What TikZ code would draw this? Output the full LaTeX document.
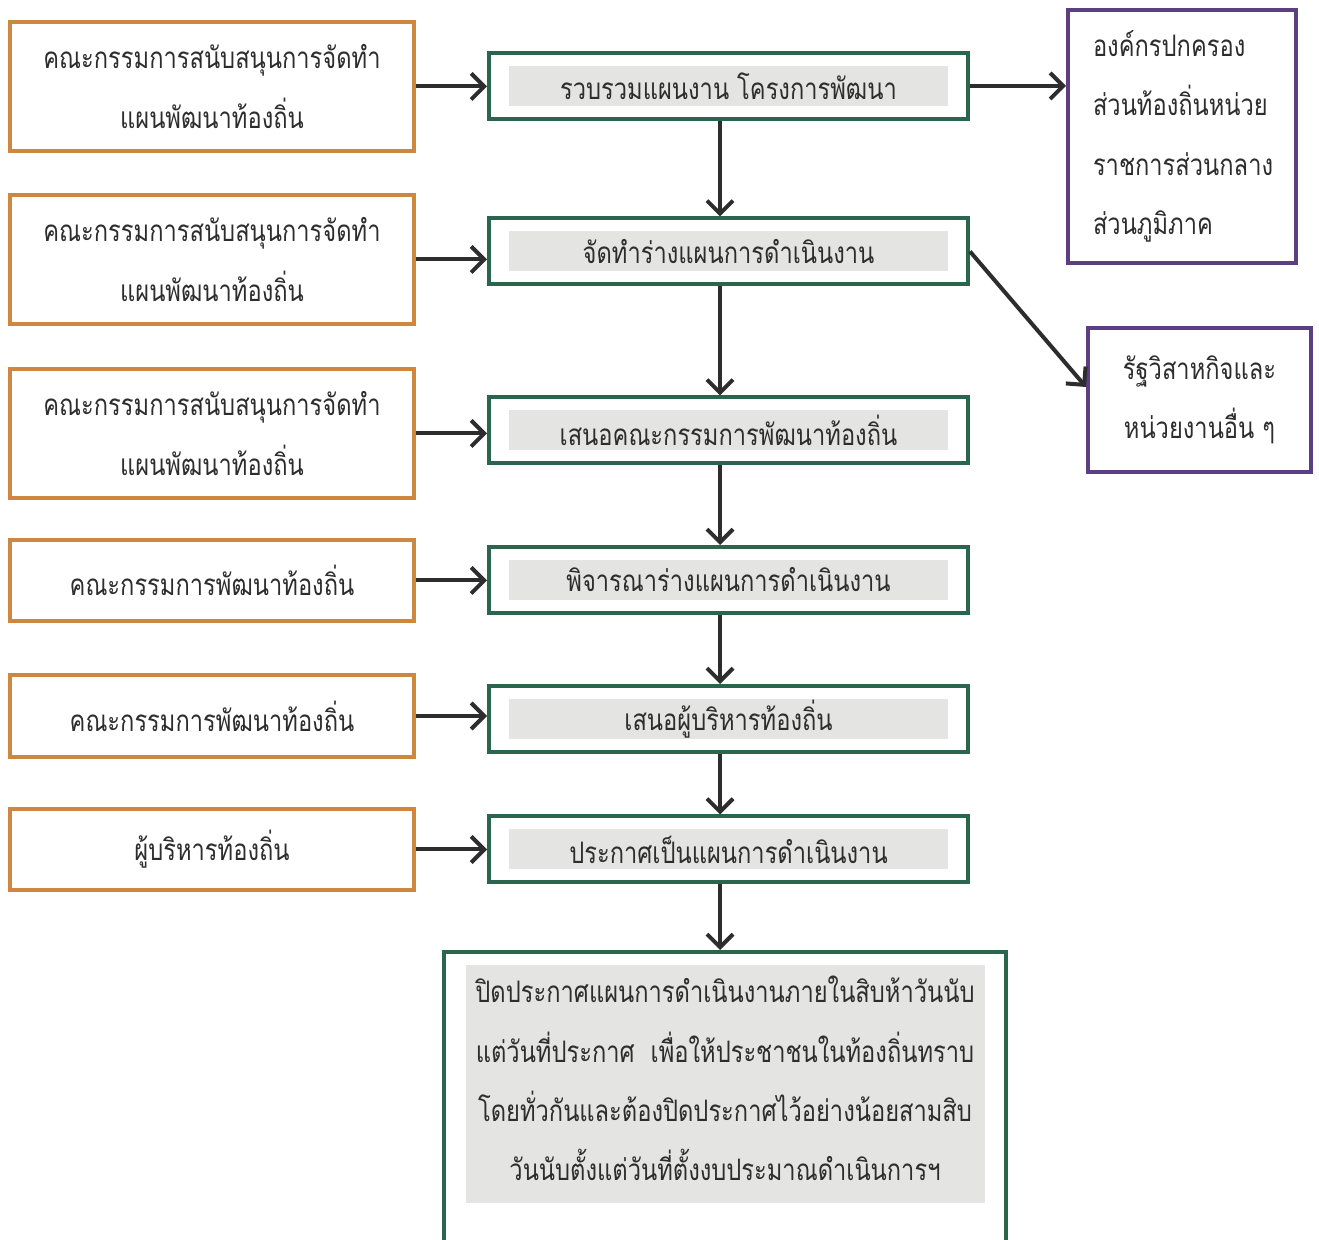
\documentclass[tikz,border=0pt]{standalone}
\usepackage{fontspec}
\newfontfamily\thaifont[Script=Thai, FakeStretch=0.8]{Loma}
\usetikzlibrary{arrows.meta,calc}
\definecolor{orangec}{RGB}{205,135,62}
\definecolor{greenc}{RGB}{42,102,78}
\definecolor{purplec}{RGB}{92,62,130}
\definecolor{txtc}{RGB}{45,45,45}
\definecolor{bandc}{RGB}{228,228,226}
\tikzset{
  txt/.style={font=\thaifont\fontsize{14.8}{29.7}\selectfont, text=txtc},
  obox/.style={txt, draw=orangec, line width=2pt, fill=white, minimum width=202pt, align=center, inner sep=0pt},
  gbox/.style={txt, draw=greenc, line width=2pt, fill=white, minimum width=239.5pt, minimum height=33pt, align=center, inner sep=0pt,
    path picture={\fill[bandc] ($(path picture bounding box.north west)+(10pt,-6.5pt)$) rectangle ($(path picture bounding box.south east)+(-10pt,6.5pt)$);}},
  pbox/.style={txt, draw=purplec, line width=2pt, fill=white},
  arr/.style={draw=txtc, line width=2pt, -{Straight Barb[length=6.5pt,width=13pt,line width=2pt]}}
}
\begin{document}
\begin{tikzpicture}[x=0.5pt, y=-0.5pt]
\clip (0,0) rectangle (1319,1240);
\fill[white] (0,0) rectangle (1319,1240);
% left boxes
\node[obox, minimum height=64.5pt] (L1) at (212,86.5) {คณะกรรมการสนับสนุนการจัดทำ\\แผนพัฒนาท้องถิ่น};
\node[obox, minimum height=64.5pt] (L2) at (212,259.5) {คณะกรรมการสนับสนุนการจัดทำ\\แผนพัฒนาท้องถิ่น};
\node[obox, minimum height=64.5pt] (L3) at (212,433.5) {คณะกรรมการสนับสนุนการจัดทำ\\แผนพัฒนาท้องถิ่น};
\node[obox, minimum height=40.5pt] (L4) at (212,580.5) {คณะกรรมการพัฒนาท้องถิ่น};
\node[obox, minimum height=41pt] (L5) at (212,716) {คณะกรรมการพัฒนาท้องถิ่น};
\node[obox, minimum height=40.5pt] (L6) at (212,849.5) {ผู้บริหารท้องถิ่น};
% green boxes
\node[gbox] (G1) at (728.5,86) {รวบรวมแผนงาน โครงการพัฒนา};
\node[gbox] (G2) at (728.5,251.5) {จัดทำร่างแผนการดำเนินงาน};
\node[gbox] (G3) at (728.5,430.5) {เสนอคณะกรรมการพัฒนาท้องถิ่น};
\node[gbox] (G4) at (728.5,580) {พิจารณาร่างแผนการดำเนินงาน};
\node[gbox] (G5) at (728.5,719) {เสนอผู้บริหารท้องถิ่น};
\node[gbox] (G6) at (728.5,849.5) {ประกาศเป็นแผนการดำเนินงาน};
% final box
\node[draw=greenc, line width=2pt, fill=white, minimum width=281pt, minimum height=150pt, inner sep=0pt, anchor=north] (F) at (725,950) {};
\fill[bandc] (466,965) rectangle (985,1203);
\node[txt, align=center, inner sep=0pt] (FT) at (725,1078.5) {ปิดประกาศแผนการดำเนินงานภายในสิบห้าวันนับ\\แต่วันที่ประกาศ\ \ เพื่อให้ประชาชนในท้องถิ่นทราบ\\โดยทั่วกันและต้องปิดประกาศไว้อย่างน้อยสามสิบ\\วันนับตั้งแต่วันที่ตั้งงบประมาณดำเนินการฯ};
% purple boxes
\node[pbox, minimum height=126.5pt, text width=89pt, inner xsep=12.5pt, align=left] (P1) at (1182,136.5) {องค์กรปกครอง\\ส่วนท้องถิ่นหน่วย\\ราชการส่วนกลาง\\ส่วนภูมิภาค};
\node[pbox, minimum width=111.5pt, minimum height=72pt, align=center, inner sep=0pt] (P2) at (1199.5,400) {รัฐวิสาหกิจและ\\หน่วยงานอื่น ๆ};
% arrows left -> center
\foreach \i in {1,...,6} {
  \draw[arr] (L\i.east) -- (L\i.east -| G\i.west);
}
% vertical arrows
\foreach \i/\j in {1/2,2/3,3/4,4/5,5/6} {
  \coordinate (a\i) at ($(G\i.south)+(-8.5,0)$);
  \draw[arr] (a\i) -- (a\i |- G\j.north);
}
\coordinate (a6) at ($(G6.south)+(-8.5,0)$);
\draw[arr] (a6) -- (a6 |- F.north);
% right arrows
\draw[arr] (G1.east) -- (G1.east -| P1.west);
\coordinate (p2in) at ($(P2.west)+(0,-13)$);
\draw[arr] (G2.east) -- (p2in);
\end{tikzpicture}
\end{document}
